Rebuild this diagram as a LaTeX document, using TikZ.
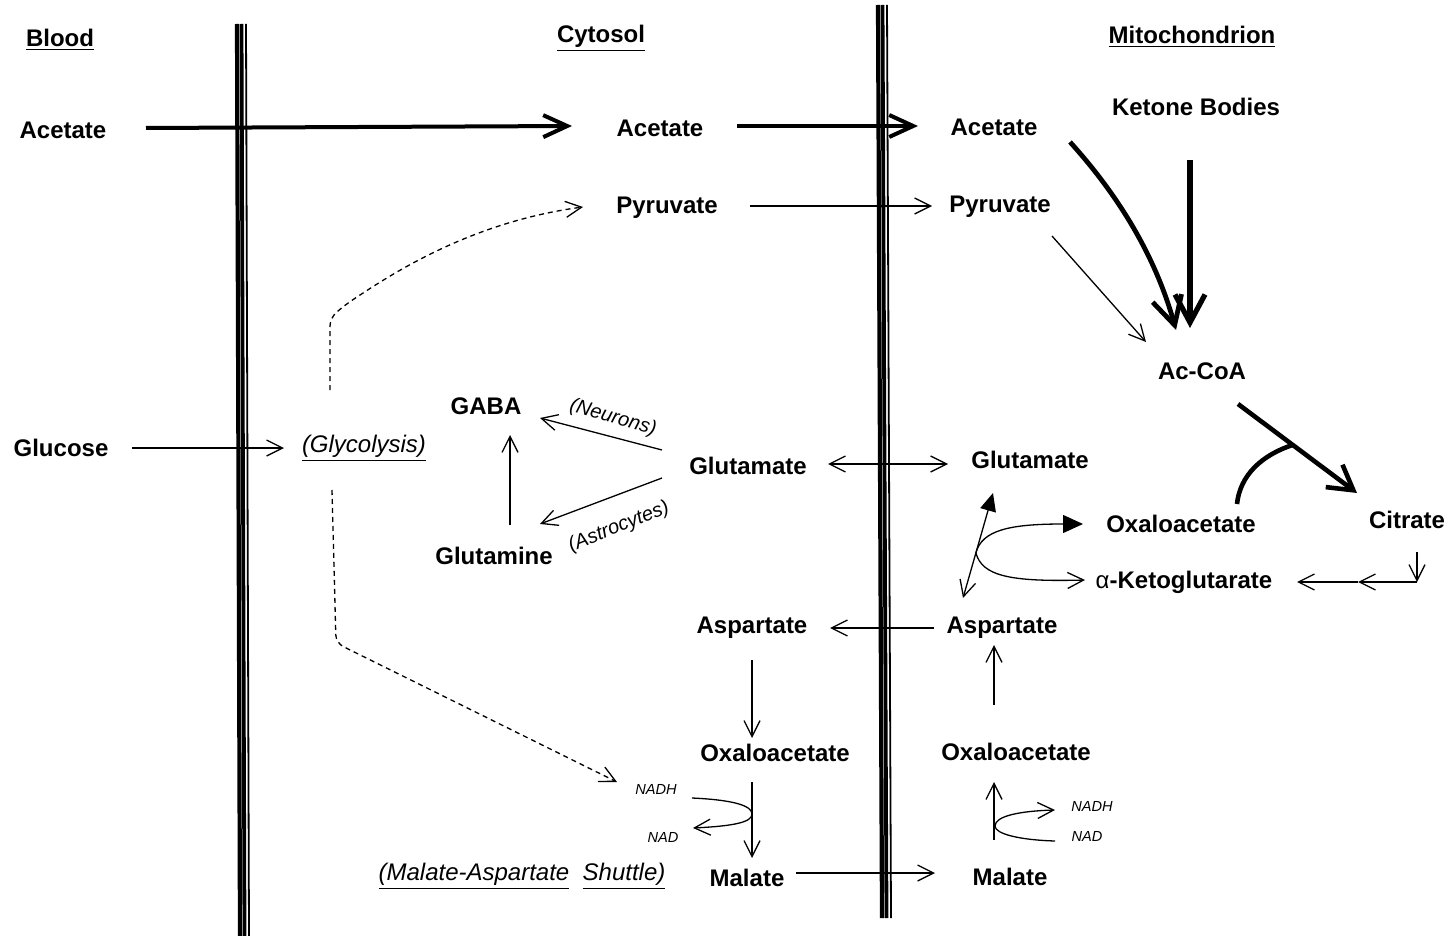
\documentclass[tikz,border=0pt]{standalone}
\usepackage{fontspec}
\setmainfont{Liberation Sans}
\usetikzlibrary{arrows.meta,calc}

\begin{document}
\begin{tikzpicture}[x=0.5pt,y=-0.5pt]
	\tikzstyle{every node}+=[inner sep=0pt]
	\tikzstyle{lbl}=[font=\fontsize{12}{14}\selectfont\bfseries]
	\tikzstyle{tag}=[font=\fontsize{12}{14}\selectfont\itshape]
	\tikzstyle{note}=[font=\fontsize{10}{12}\selectfont\itshape]
	\tikzstyle{cofac}=[font=\fontsize{7.3}{9}\selectfont\itshape]
	\tikzstyle{flux}=[black,line width=0.65pt,-{Straight Barb[length=8pt,width=8pt]}]
	\tikzstyle{bothflux}=[black,line width=0.65pt,{Straight Barb[length=8pt,width=8pt]}-{Straight Barb[length=8pt,width=8pt]}]
	\tikzstyle{dflux}=[flux,dash pattern=on 2.5pt off 2pt,rounded corners=4pt]
	\tikzstyle{bigflux}=[black,line width=2pt,-{Straight Barb[length=12pt,width=11pt]}]
	\tikzstyle{hugeflux}=[black,line width=2.6pt,-{Straight Barb[length=14pt,width=15pt]}]
	\useasboundingbox (0,0) rectangle (1456,936);
	\foreach \dx/\lw in {0/2.1,4.5/1.9,9/0.9}{
		\draw [black,line width=\lw pt] (237+\dx,24) -- (240+\dx,936);
		\draw [black,line width=\lw pt] (878+\dx,5) -- (882+\dx,918);
	}
	\draw (60,40) node[lbl] (bloodHd) {\underline{Blood}};
	\draw (601,38) node[lbl] (cytHd) {\underline{Cytosol}};
	\draw (1192,37) node[lbl] (mitoHd) {\underline{Mitochondrion}};
	\draw (63,130) node[lbl] (bloodAc) {Acetate};
	\draw (660,128) node[lbl] (cytAc) {Acetate};
	\draw (994,127) node[lbl] (mitoAc) {Acetate};
	\draw (1196,107) node[lbl] (ketone) {Ketone Bodies};
	\draw (667,208) node[lbl] (cytPyr) {Pyruvate};
	\draw (1000,207) node[lbl] (mitoPyr) {Pyruvate};
	\draw (1202,371) node[lbl] (acCoA) {Ac-CoA};
	\draw (486,406) node[lbl] (gaba) {GABA};
	\draw (61,448) node[lbl] (glucose) {Glucose};
	\draw (364,448) node[tag] (glyco) {\underline{(Glycolysis)}};
	\draw (748,466) node[lbl] (cytGlu) {Glutamate};
	\draw (1030,460) node[lbl] (mitoGlu) {Glutamate};
	\draw (494,556) node[lbl] (glutamine) {Glutamine};
	\draw (1181,524) node[lbl] (tcaOxa) {Oxaloacetate};
	\draw (1407,520) node[lbl] (citrate) {Citrate};
	\draw (1184,582) node[lbl] (akg) {{\mdseries α}-Ketoglutarate};
	\draw (752,628) node[lbl] (cytAsp) {Aspartate};
	\draw (1002,628) node[lbl] (mitoAsp) {Aspartate};
	\draw (775,753) node[lbl] (cytOxa) {Oxaloacetate};
	\draw (1016,752) node[lbl] (mitoOxa) {Oxaloacetate};
	\draw (656,789) node[cofac] (cytNADH) {NADH};
	\draw (663,837) node[cofac] (cytNAD) {NAD};
	\draw (747,878) node[lbl] (cytMal) {Malate};
	\draw (522,876) node[tag] (shuttle) {\underline{(Malate-Aspartate}\ \ \underline{Shuttle)}};
	\draw (1010,877) node[lbl] (mitoMal) {Malate};
	\draw (1092,806) node[cofac] (mitoNADH) {NADH};
	\draw (1087,836) node[cofac] (mitoNAD) {NAD};
	\draw (613,418) node[note,rotate=-16] (neurLbl) {(Neurons)};
	\draw (619,527) node[note,rotate=22] (astroLbl) {(Astrocytes)};
	\coordinate (citCorner) at (1417,582);
	\coordinate (citMid) at (1358,582);
	\draw [bigflux] ([shift={(83,-2)}]bloodAc.center) -- ([shift={(-88,-2)}]cytAc.center);
	\draw [bigflux] ([shift={(77,-2)}]cytAc.center) -- ([shift={(-76,-1)}]mitoAc.center);
	\draw [hugeflux,line width=2.4pt] ([shift={(76,15)}]mitoAc.center) .. controls (1118,195) and (1155,255) .. ([shift={(-26,-41)}]acCoA.center);
	\draw [hugeflux] ([shift={(-6,53)}]ketone.center) -- ([shift={(-12,-43)}]acCoA.center);
	\draw [flux] ([shift={(83,-2)}]cytPyr.center) -- ([shift={(-68,-1)}]mitoPyr.center);
	\draw [flux] ([shift={(52,29)}]mitoPyr.center) -- ([shift={(-56,-29)}]acCoA.center);
	\draw [bigflux,line width=2.3pt,-{Straight Barb[length=12pt,width=14pt]}] ([shift={(36,33)}]acCoA.center) coordinate (citStart) -- ([shift={(-50,-27)}]citrate.center) coordinate (citEnd);
	\draw [black,line width=2.3pt] ([shift={(56,-20)}]tcaOxa.center) .. controls (1240,475) and (1262,455) .. ($(citStart)!0.46!(citEnd)$);
	\draw [flux] ([shift={(10,32)}]citrate.center) -- (citCorner);
	\draw [flux] (citCorner) -- (citMid);
	\draw [flux] (citMid) -- ([shift={(113,0)}]akg.center);
	\draw [black,line width=0.65pt,{Straight Barb[length=8pt,width=8pt]}-{Triangle[length=9pt,width=8pt]}] ([shift={(-39,-30)}]mitoAsp.center) -- coordinate[pos=0.43] (tcaFork) ([shift={(-37,33)}]mitoGlu.center);
	\draw [flux,-{Triangle[length=10pt,width=9pt]}] (tcaFork) .. controls (982,530) and (1010,524) .. ([shift={(-98,0)}]tcaOxa.center);
	\draw [flux] (tcaFork) .. controls (982,576) and (1010,582) .. ([shift={(-99,-2)}]akg.center);
	\draw [bothflux] ([shift={(80,-2)}]cytGlu.center) -- ([shift={(-82,4)}]mitoGlu.center);
	\draw [flux] ([shift={(-86,-16)}]cytGlu.center) -- ([shift={(54,12)}]gaba.center);
	\draw [flux] ([shift={(-86,12)}]cytGlu.center) -- ([shift={(46,-32)}]glutamine.center);
	\draw [flux] ([shift={(16,-31)}]glutamine.center) -- ([shift={(24,29)}]gaba.center);
	\draw [flux] ([shift={(71,0)}]glucose.center) -- ([shift={(-80,0)}]glyco.center);
	\draw [dflux] ([shift={(-34,-58)}]glyco.center) -- (330,318) -- (345,305) .. controls (390,275) and (470,222) .. ([shift={(-84,-1)}]cytPyr.center);
	\draw [dflux] ([shift={(-32,42)}]glyco.center) -- (336,643) -- ([shift={(-39,-7)}]cytNADH.center);
	\draw [flux] ([shift={(-68,0)}]mitoAsp.center) -- ([shift={(78,0)}]cytAsp.center);
	\draw [flux] ([shift={(0,32)}]cytAsp.center) -- ([shift={(-23,-15)}]cytOxa.center);
	\draw [flux] ([shift={(-23,29)}]cytOxa.center) -- ([shift={(5,-20)}]cytMal.center);
	\draw [flux] ([shift={(36,9)}]cytNADH.center) .. controls (735,800) and (752,806) .. (752,814) .. controls (752,822) and (735,826) .. ([shift={(30,-9)}]cytNAD.center);
	\draw [flux] ([shift={(49,-5)}]cytMal.center) -- ([shift={(-75,-4)}]mitoMal.center);
	\draw [flux] ([shift={(-16,-37)}]mitoMal.center) -- ([shift={(-22,30)}]mitoOxa.center);
	\draw [flux] ([shift={(-32,5)}]mitoNAD.center) .. controls (1020,840) and (995,834) .. (995,826) .. controls (995,816) and (1020,811) .. ([shift={(-37,4)}]mitoNADH.center);
	\draw [flux] ([shift={(-22,-47)}]mitoOxa.center) -- ([shift={(-8,17)}]mitoAsp.center);
\end{tikzpicture}
\end{document}
